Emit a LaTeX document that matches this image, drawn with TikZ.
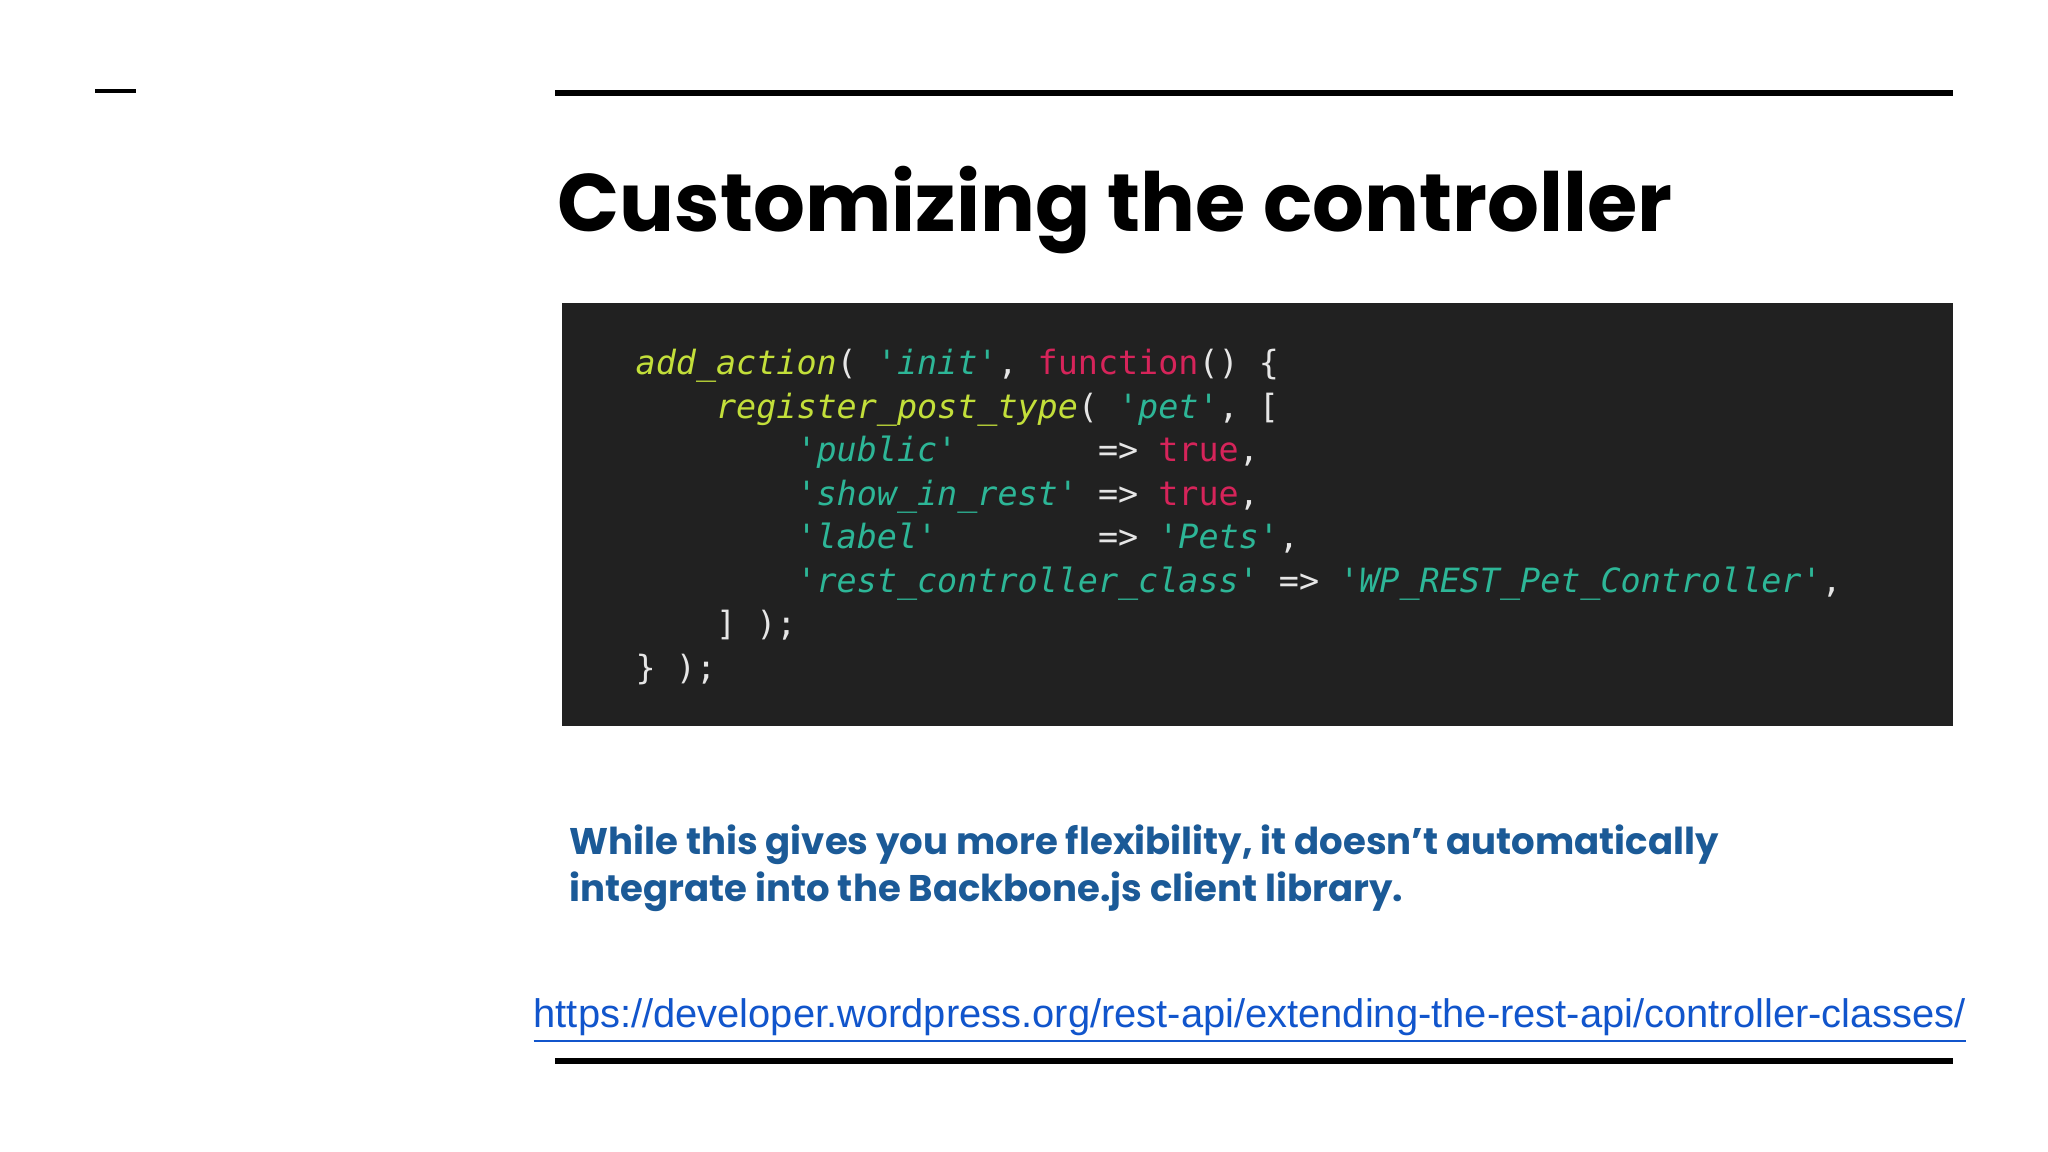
\documentclass[tikz,border=0pt]{standalone}
\usepackage{fontspec}
\setmainfont{Poppins}
\newfontfamily\codefont{DejaVu Sans Mono}
\newfontfamily\urlfont{Liberation Sans}
\definecolor{cfn}{HTML}{C3DF3A}
\definecolor{cstr}{HTML}{2DB697}
\definecolor{ckw}{HTML}{D6245A}
\definecolor{cpn}{HTML}{E6E6E6}
\definecolor{cbg}{HTML}{212121}
\definecolor{bluetxt}{HTML}{1B5A97}
\definecolor{urlblue}{HTML}{1155CC}
\newcommand{\Fn}[1]{\textcolor{cfn}{\itshape #1}}
\newcommand{\St}[1]{\textcolor{cstr}{\itshape #1}}
\newcommand{\Kw}[1]{\textcolor{ckw}{#1}}
\begin{document}
\begin{tikzpicture}[x=1cm,y=1cm,
  rule/.style={line width=0.065cm},
  codeline/.style={anchor=base west,inner sep=0,text=cpn,font=\codefont\fontsize{9.5}{12}\selectfont}]
\useasboundingbox (0,0) rectangle (20.48,11.52);
\fill[white] (0,0) rectangle (20.48,11.52);
\draw[line width=0.04cm] (0.95,10.61) -- (1.36,10.61);
\draw[rule] (5.55,10.59) -- (19.53,10.59);
\draw[rule] (5.55,0.91) -- (19.53,0.91);
\node[anchor=base west,inner sep=0,font=\bfseries\fontsize{23.2}{27}\selectfont] (title) at (5.57,9.20) {Customizing the controller};
\fill[cbg] (5.62,4.26) rectangle (19.53,8.49);
\node[codeline] (l1) at (6.35,7.77) {\Fn{add\_action}( \St{'init'}, \Kw{function}() \{};
\node[codeline] (l2) at (6.35,7.335) {\phantom{xxxx}\Fn{register\_post\_type}( \St{'pet'}, [};
\node[codeline] (l3) at (6.35,6.90) {\phantom{xxxxxxxx}\St{'public'}\phantom{xxxxxxx}=> \Kw{true},};
\node[codeline] (l4) at (6.35,6.465) {\phantom{xxxxxxxx}\St{'show\_in\_rest'} => \Kw{true},};
\node[codeline] (l5) at (6.35,6.03) {\phantom{xxxxxxxx}\St{'label'}\phantom{xxxxxxxx}=> \St{'Pets'},};
\node[codeline] (l6) at (6.35,5.595) {\phantom{xxxxxxxx}\St{'rest\_controller\_class'} => \St{'WP\_REST\_Pet\_Controller'},};
\node[codeline] (l7) at (6.35,5.16) {\phantom{xxxx}] );};
\node[codeline] (l8) at (6.35,4.725) {\} );};
\node[anchor=base west,inner sep=0,text=bluetxt,font=\bfseries\fontsize{10.55}{13}\selectfont] (b1) at (5.69,2.97) {While this gives you more flexibility, it doesn’t automatically};
\node[anchor=base west,inner sep=0,text=bluetxt,font=\bfseries\fontsize{10.55}{13}\selectfont] (b2) at (5.69,2.50) {integrate into the Backbone.js client library.};
\node[anchor=base west,inner sep=0,text=urlblue,font=\urlfont\fontsize{11.35}{13}\selectfont] (url) at (5.33,1.24) {\underline{https://developer.wordpress.org/rest-api/extending-the-rest-api/controller-classes/}};
\end{tikzpicture}
\end{document}
